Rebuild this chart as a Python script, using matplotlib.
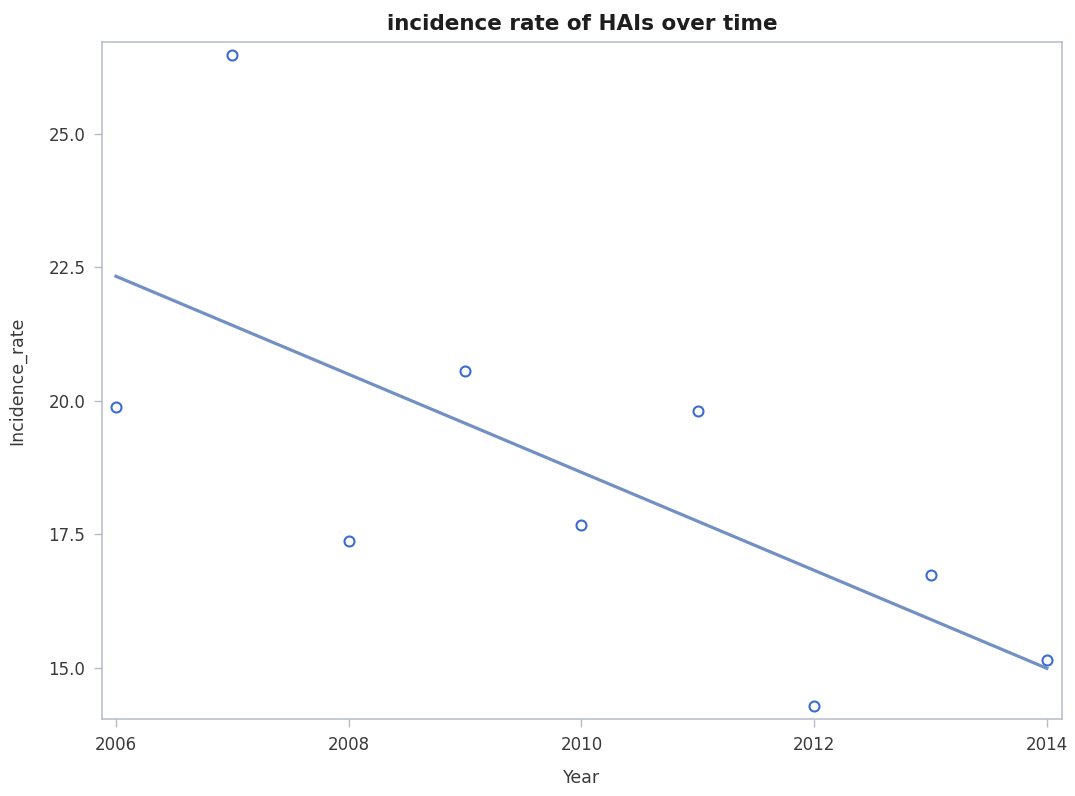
import numpy as np
import matplotlib.pyplot as plt

years = [2006, 2007, 2008, 2009, 2010, 2011, 2012, 2013, 2014]
incidence_rate = [19.88, 26.48, 17.38, 20.55, 17.68, 19.80, 14.29, 16.74, 15.15]
x_ticks = [2006, 2008, 2010, 2012, 2014]
y_ticks = [15.0, 17.5, 20.0, 22.5, 25.0]

# linear fit, same as the regression line in the original
slope, intercept = np.polyfit(years, incidence_rate, 1)
fit_x = np.array([years[0], years[-1]])
fit_y = slope * fit_x + intercept

fig = plt.figure(figsize=(10.75, 7.96), dpi=100)
ax = fig.add_axes([0.0949, 0.0967, 0.8930, 0.8505])

ax.plot(fit_x, fit_y, color='#7390c2', linewidth=2.3, zorder=2)
ax.plot(years, incidence_rate, linestyle='none', marker='o', markersize=7.2,
        markerfacecolor='white', markeredgecolor='#3d6cd0', markeredgewidth=1.5, zorder=3)

ax.set_xlim(2005.88, 2014.13)
ax.set_ylim(14.04, 26.72)
ax.set_xticks(x_ticks)
ax.set_xticklabels([str(t) for t in x_ticks])
ax.set_yticks(y_ticks)
ax.set_yticklabels([f'{t:.1f}' for t in y_ticks])

grey = '#b5bcc7'
for s in ax.spines.values():
    s.set_color(grey)
    s.set_linewidth(1.1)
ax.tick_params(axis='both', colors=grey, labelcolor='#3a3a3a', labelsize=12,
               length=6, width=1.0, pad=6)

ax.set_title('incidence rate of HAIs over time', fontsize=15.5, fontweight='bold',
             color='#1e1e1e', pad=9)
ax.set_xlabel('Year', fontsize=12.5, color='#3a3a3a', labelpad=11)
ax.set_ylabel('Incidence_rate', fontsize=12.5, color='#3a3a3a', labelpad=16)

fig.savefig('out.png', dpi=100)
